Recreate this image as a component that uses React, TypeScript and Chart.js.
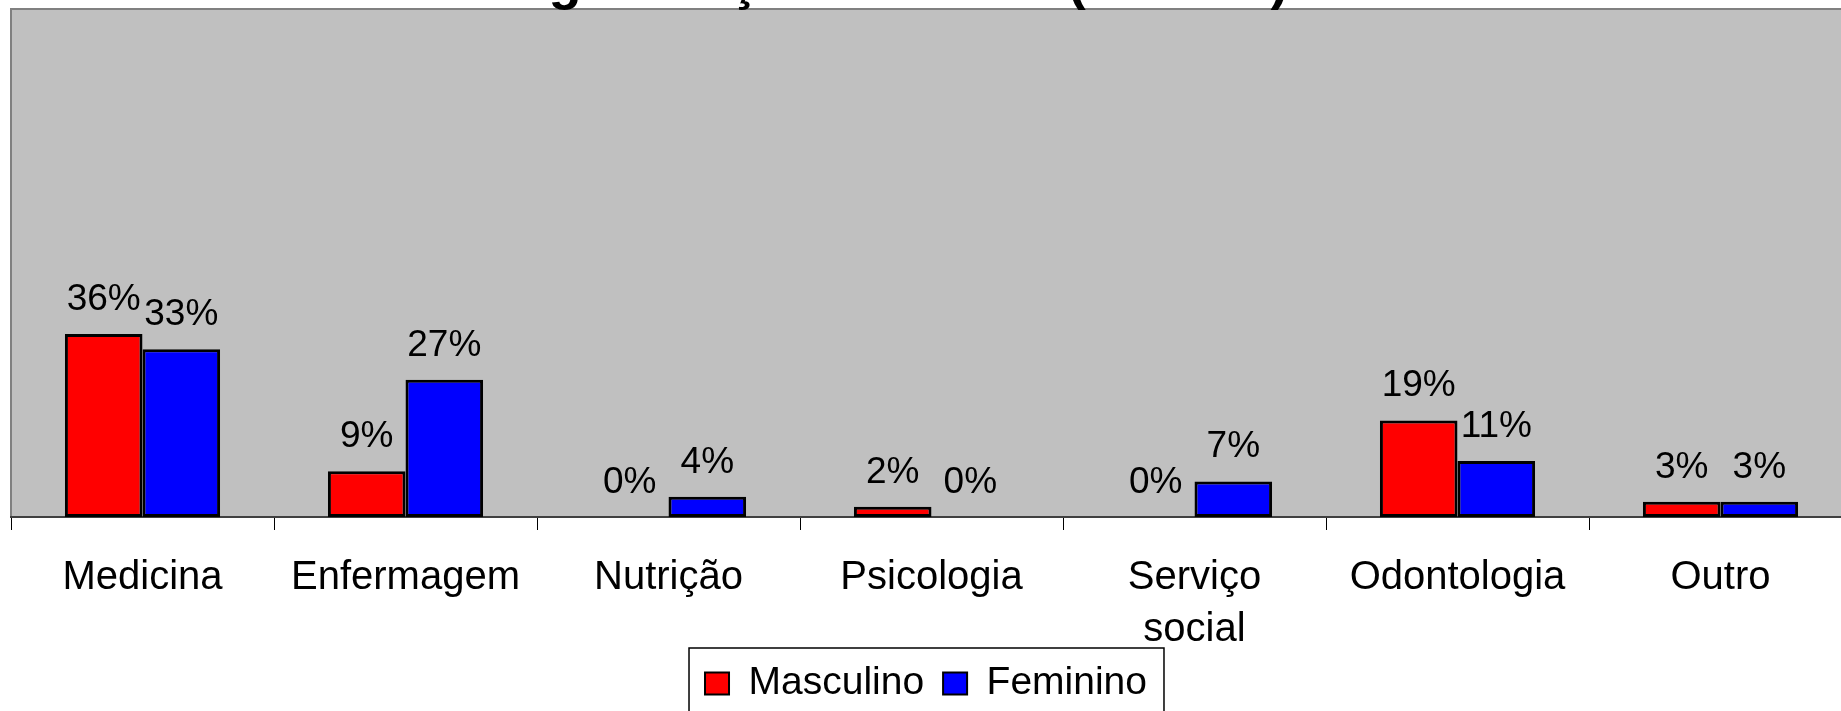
import React, { useEffect, useRef } from "react";
import { Chart, registerables } from "chart.js";

Chart.register(...registerables);

const categories: (string | string[])[] = [
  "Medicina",
  "Enfermagem",
  "Nutrição",
  "Psicologia",
  ["Serviço", "social"],
  "Odontologia",
  "Outro",
];
const masculino = [36, 9, 0, 2, 0, 19, 3];
const feminino = [33, 27, 4, 0, 7, 11, 3];
const seriesNames = ["Masculino", "Feminino"];
const titleText = "graduação e o sexo (n = 100).";

const FAMILY = "'Liberation Sans', Arial, sans-serif";

const plotBg = {
  id: "plotBg",
  beforeDraw(chart: any) {
    const { ctx, chartArea: a } = chart;
    ctx.save();
    ctx.fillStyle = "#C0C0C0";
    ctx.fillRect(a.left, a.top, a.right - a.left, a.bottom - a.top);
    ctx.strokeStyle = "#808080";
    ctx.lineWidth = 2;
    ctx.strokeRect(a.left, a.top, a.right - a.left + 20, a.bottom - a.top);
    ctx.restore();
  },
};

const dataLabels = {
  id: "dataLabels",
  afterDatasetsDraw(chart: any) {
    const { ctx } = chart;
    ctx.save();
    ctx.font = `37px ${FAMILY}`;
    ctx.fillStyle = "#000";
    ctx.textAlign = "center";
    ctx.textBaseline = "alphabetic";
    chart.data.datasets.forEach((ds: any, i: number) => {
      const meta = chart.getDatasetMeta(i);
      meta.data.forEach((el: any, j: number) => {
        const v = ds.data[j];
        ctx.fillText(`${v}%`, el.x, el.y - 24);
      });
    });
    ctx.restore();
  },
};

const legendBorder = {
  id: "legendBorder",
  afterDraw(chart: any) {
    const hb = chart.legend && chart.legend.legendHitBoxes;
    if (!hb || !hb.length) return;
    const first = hb[0];
    const last = hb[hb.length - 1];
    const ctx = chart.ctx;
    ctx.save();
    ctx.strokeStyle = "#000";
    ctx.lineWidth = 1.5;
    const left = first.left - 16;
    const right = last.left + last.width + 17;
    const top = first.top - 16;
    ctx.strokeRect(left, top, right - left, 90);
    ctx.restore();
  },
};

export default function App() {
  const ref = useRef<HTMLCanvasElement | null>(null);

  useEffect(() => {
    if (!ref.current) return;
    const bw = (c: any) => (c.raw === 0 ? 0 : 3);
    const chart = new Chart(ref.current, {
      type: "bar",
      data: {
        labels: categories,
        datasets: [
          {
            label: seriesNames[0],
            data: masculino,
            backgroundColor: "#FF0000",
            borderColor: "#000000",
            borderWidth: bw,
            borderSkipped: false,
            categoryPercentage: 0.59,
            barPercentage: 1,
          },
          {
            label: seriesNames[1],
            data: feminino,
            backgroundColor: "#0000FF",
            borderColor: "#000000",
            borderWidth: bw,
            borderSkipped: false,
            categoryPercentage: 0.59,
            barPercentage: 1,
          },
        ],
      },
      options: {
        responsive: false,
        animation: false,
        events: [],
        layout: { padding: { left: 0, right: 0, top: 0, bottom: 0 } },
        scales: {
          x: {
            offset: true,
            grid: {
              display: true,
              drawOnChartArea: false,
              drawTicks: true,
              tickLength: 13,
              color: "#000",
              lineWidth: 1,
              offset: true,
            },
            border: { display: true, color: "#404040", width: 2 },
            ticks: {
              color: "#000",
              font: { family: FAMILY, size: 40, lineHeight: 1.3 },
              padding: 22,
              maxRotation: 0,
              autoSkip: false,
            },
            afterFit: (s: any) => {
              s.height = 128;
            },
          },
          y: {
            display: true,
            min: 0,
            max: 100,
            ticks: { display: false },
            grid: { display: false },
            border: { display: false },
            afterFit: (s: any) => {
              s.width = 11;
            },
          },
        },
        plugins: {
          title: {
            display: true,
            text: titleText,
            color: "#000",
            font: { family: FAMILY, size: 54, weight: "bold", lineHeight: 1.2 },
            padding: { top: -48.1, bottom: -7.7 },
          },
          legend: {
            display: true,
            position: "bottom",
            labels: {
              color: "#000",
              font: { family: FAMILY, size: 39 },
              boxWidth: 24,
              boxHeight: 22,
              padding: 19,
              generateLabels: (ch: any) => {
                const items = Chart.defaults.plugins.legend.labels.generateLabels(ch);
                items.forEach((it: any) => {
                  it.lineWidth = 2;
                  it.strokeStyle = "#000";
                });
                return items;
              },
            },
          },
          tooltip: { enabled: false },
        },
      },
      plugins: [plotBg, dataLabels, legendBorder],
    } as any);
    return () => chart.destroy();
  }, []);

  return (
    <div
      style={{
        position: "fixed",
        left: 0,
        top: 0,
        width: 1852,
        height: 713,
        background: "#fff",
      }}
    >
      <canvas ref={ref} width={1852} height={713} style={{ display: "block" }} />
    </div>
  );
}
